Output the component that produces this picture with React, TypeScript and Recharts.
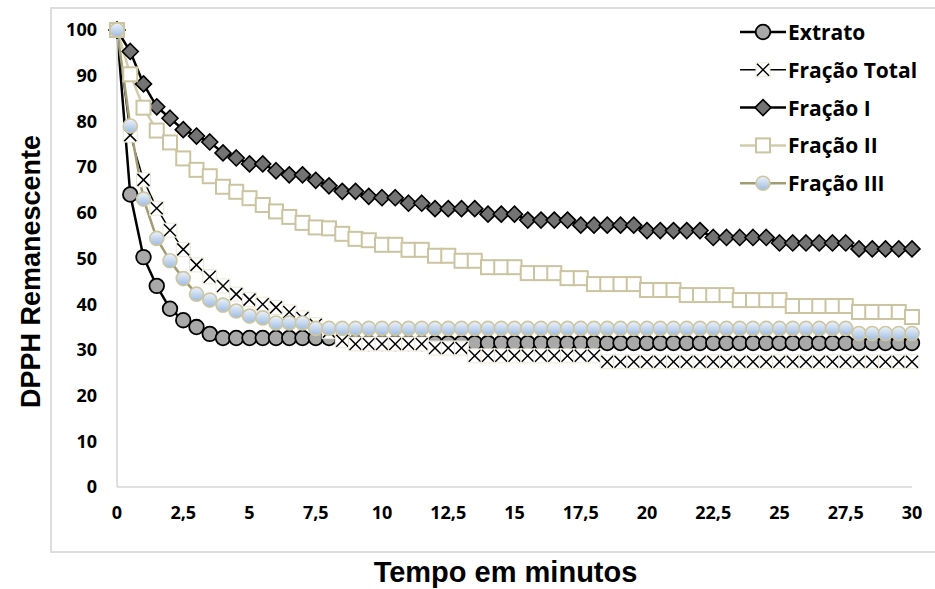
import React from 'react';
import { LineChart, Line, XAxis, YAxis, Legend } from 'recharts';

// ---------- data ----------
const TIME = [
  0, 0.5, 1, 1.5, 2, 2.5, 3, 3.5, 4, 4.5,
  5, 5.5, 6, 6.5, 7, 7.5, 8, 8.5, 9, 9.5,
  10, 10.5, 11, 11.5, 12, 12.5, 13, 13.5, 14, 14.5,
  15, 15.5, 16, 16.5, 17, 17.5, 18, 18.5, 19, 19.5,
  20, 20.5, 21, 21.5, 22, 22.5, 23, 23.5, 24, 24.5,
  25, 25.5, 26, 26.5, 27, 27.5, 28, 28.5, 29, 29.5,
  30,
];

const EXTRATO = [
  100, 64, 50.3, 44, 39, 36.5, 35, 33.5, 32.6, 32.6,
  32.6, 32.6, 32.6, 32.6, 32.6, 32.6, 32.6, 32.6, 31.6, 31.5,
  31.5, 31.5, 31.5, 31.5, 31.5, 31.5, 31.5, 31.5, 31.5, 31.5,
  31.5, 31.5, 31.5, 31.5, 31.5, 31.5, 31.5, 31.5, 31.5, 31.5,
  31.5, 31.5, 31.5, 31.5, 31.5, 31.5, 31.5, 31.5, 31.5, 31.5,
  31.5, 31.5, 31.5, 31.5, 31.5, 31.5, 31.5, 31.5, 31.5, 31.5,
  31.5,
];

const FRACAO_TOTAL = [
  100, 77, 67.2, 61, 56.2, 52, 48.6, 46, 44, 42.2,
  41, 40, 39.3, 38.3, 37, 35.5, 34, 32, 31.3, 31.3,
  31.3, 31.3, 31.3, 31.3, 30.4, 30.4, 30.4, 28.7, 28.7, 28.7,
  28.7, 28.7, 28.7, 28.7, 28.7, 28.7, 28.7, 27.4, 27.4, 27.4,
  27.4, 27.4, 27.4, 27.4, 27.4, 27.4, 27.4, 27.4, 27.4, 27.4,
  27.4, 27.4, 27.4, 27.4, 27.4, 27.4, 27.4, 27.4, 27.4, 27.4,
  27.4,
];

const FRACAO_I = [
  100, 95.3, 88.2, 83.2, 80.7, 78.2, 76.8, 75.5, 73.1, 72,
  70.7, 70.7, 69.2, 68.3, 68.3, 67.1, 65.9, 64.7, 64.7, 63.6,
  63.3, 63.3, 62.1, 62.1, 60.9, 60.9, 60.9, 60.9, 59.7, 59.7,
  59.7, 58.4, 58.4, 58.4, 58.4, 57.3, 57.3, 57.3, 57.3, 57.3,
  56.1, 56.1, 56.1, 56.1, 56.1, 54.6, 54.6, 54.6, 54.6, 54.6,
  53.4, 53.4, 53.4, 53.4, 53.4, 53.4, 52.1, 52.1, 52.1, 52.1,
  52.1,
];

const FRACAO_II = [
  100, 90.3, 83, 78, 75.4, 71.9, 69.4, 68, 65.7, 64.6,
  63.2, 61.7, 60.3, 59.1, 57.8, 56.8, 56.6, 55.4, 54.3, 54,
  53, 53, 51.9, 51.9, 50.6, 50.6, 49.5, 49.5, 48.1, 48.1,
  48.1, 46.8, 46.8, 46.8, 45.7, 45.7, 44.4, 44.4, 44.4, 44.4,
  43.1, 43.1, 43.1, 42, 42, 42, 42, 40.9, 40.9, 40.9,
  40.9, 39.6, 39.6, 39.6, 39.6, 39.6, 38.3, 38.3, 38.3, 38.3,
  37.2,
];

const FRACAO_III = [
  100, 79, 63, 54.4, 49.5, 45.6, 42.2, 40.9, 39.8, 38.5,
  37.4, 37, 35.9, 35.9, 35.9, 34.7, 34.7, 34.7, 34.7, 34.7,
  34.7, 34.7, 34.7, 34.7, 34.7, 34.7, 34.7, 34.7, 34.7, 34.7,
  34.7, 34.7, 34.7, 34.7, 34.7, 34.7, 34.7, 34.7, 34.7, 34.7,
  34.7, 34.7, 34.7, 34.7, 34.7, 34.7, 34.7, 34.7, 34.7, 34.7,
  34.7, 34.7, 34.7, 34.7, 34.7, 34.7, 33.6, 33.6, 33.6, 33.6,
  33.6,
];

const X_TICKS = [0, 2.5, 5, 7.5, 10, 12.5, 15, 17.5, 20, 22.5, 25, 27.5, 30];
const Y_TICKS = [0, 10, 20, 30, 40, 50, 60, 70, 80, 90, 100];

const SERIES_NAMES = ['Extrato', 'Fração Total', 'Fração I', 'Fração II', 'Fração III'];
const X_TITLE = 'Tempo em minutos';
const Y_TITLE = 'DPPH Remanescente';

const data = TIME.map((t, i) => ({
  t,
  extrato: EXTRATO[i],
  total: FRACAO_TOTAL[i],
  f1: FRACAO_I[i],
  f2: FRACAO_II[i],
  f3: FRACAO_III[i],
}));

// ---------- marker shapes ----------
const mCircleGray = (cx: number, cy: number, k: string) => (
  <circle key={k} cx={cx} cy={cy} r={7.3} fill="#a9a9a9" stroke="#000" strokeWidth={1.8} />
);
const mCross = (cx: number, cy: number, k: string) => (
  <g key={k}>
    <rect x={cx - 7} y={cy - 7} width={14} height={14} fill="#fff" stroke="#ebe7d6" strokeWidth={1} />
    <line x1={cx - 6} y1={cy - 6} x2={cx + 6} y2={cy + 6} stroke="#000" strokeWidth={1.5} />
    <line x1={cx - 6} y1={cy + 6} x2={cx + 6} y2={cy - 6} stroke="#000" strokeWidth={1.5} />
  </g>
);
const mDiamond = (cx: number, cy: number, k: string) => (
  <polygon
    key={k}
    points={`${cx},${cy - 8} ${cx + 8},${cy} ${cx},${cy + 8} ${cx - 8},${cy}`}
    fill="#737373"
    stroke="#000"
    strokeWidth={1.6}
  />
);
const mSquare = (cx: number, cy: number, k: string) => (
  <rect key={k} x={cx - 7} y={cy - 7} width={14} height={14} fill="#fff" stroke="#cbc4a0" strokeWidth={2} />
);
const mCircleBlue = (cx: number, cy: number, k: string) => (
  <circle key={k} cx={cx} cy={cy} r={7} fill="url(#blueGrad)" stroke="#cdc6a2" strokeWidth={1.6} />
);

const makeDot = (shape: (cx: number, cy: number, k: string) => React.ReactElement, pre: string) =>
  (props: any) => {
    const { cx, cy, index } = props;
    const k = `${pre}-${index}`;
    if (cx == null || cy == null) return <g key={k} />;
    return shape(cx, cy, k);
  };

const LEGEND_STYLE = [
  { color: '#000', width: 2.5, shape: mCircleGray },
  { color: '#000', width: 1.5, shape: mCross },
  { color: '#000', width: 2.5, shape: mDiamond },
  { color: '#d2ccab', width: 2.5, shape: mSquare },
  { color: '#a29c72', width: 2.5, shape: mCircleBlue },
];

const renderLegend = () => (
  <svg width={200} height={190}>
    {SERIES_NAMES.map((name, i) => {
      const y = 20 + i * 37.8;
      const st = LEGEND_STYLE[i];
      return (
        <g key={name}>
          <line x1={5} y1={y} x2={51} y2={y} stroke={st.color} strokeWidth={st.width} />
          {st.shape(28, y, `lg-${i}`)}
          <text
            x={53}
            y={y}
            dominantBaseline="central"
            fontFamily="'Open Sans', sans-serif"
            fontWeight={700}
            fontSize={21}
            fill="#000"
          >
            {name}
          </text>
        </g>
      );
    })}
  </svg>
);

const tickStyle = { fontFamily: "'Open Sans', sans-serif", fontWeight: 700, fontSize: 18, fill: '#000' };
const fmt = (v: number) => String(v).replace('.', ',');

export default function App() {
  return (
    <div style={{ position: 'absolute', left: 0, top: 0, width: 935, height: 589, overflow: 'hidden', background: '#fff' }}>
      <svg width={0} height={0} style={{ position: 'absolute' }}>
        <defs>
          <linearGradient id="blueGrad" x1="0" y1="0" x2="0" y2="1">
            <stop offset="0%" stopColor="#eef3fa" />
            <stop offset="100%" stopColor="#9dbbe0" />
          </linearGradient>
        </defs>
      </svg>
      <div
        style={{
          position: 'absolute',
          left: 50,
          top: 7,
          width: 900,
          height: 546,
          border: '2px solid #dddddd',
          boxSizing: 'border-box',
        }}
      />
      <div style={{ position: 'absolute', left: 0, top: 0 }}>
        <LineChart width={935} height={589} data={data} margin={{ top: 30, right: 23, left: 0, bottom: 0 }}>
          <XAxis
            dataKey="t"
            type="number"
            domain={[0, 30]}
            ticks={X_TICKS}
            tickFormatter={fmt}
            tickLine={false}
            tickSize={0}
            tickMargin={19}
            axisLine={{ stroke: '#d4d4d4', strokeWidth: 1.5 }}
            tick={tickStyle}
            height={102}
            interval={0}
            label={{
              content: (p: any) => {
                const vb = p.viewBox || { x: 117, y: 487, width: 795, height: 102 };
                return (
                  <text
                    x={vb.x + vb.width / 2 - 9}
                    y={vb.y + 95}
                    textAnchor="middle"
                    fontFamily="'Liberation Sans', Arial, sans-serif"
                    fontWeight={700}
                    fontSize={29}
                    fill="#000"
                  >
                    {X_TITLE}
                  </text>
                );
              },
            }}
          />
          <YAxis
            type="number"
            domain={[0, 100]}
            ticks={Y_TICKS}
            tickLine={false}
            tickSize={0}
            tickMargin={20}
            axisLine={{ stroke: '#d4d4d4', strokeWidth: 1.5 }}
            tick={tickStyle}
            width={117}
            interval={0}
            label={{
              content: (p: any) => {
                const vb = p.viewBox || { x: 0, y: 30, width: 117, height: 457 };
                const cx = 40;
                const cy = vb.y + vb.height / 2 + 13;
                return (
                  <text
                    x={cx}
                    y={cy}
                    transform={`rotate(-90 ${cx} ${cy})`}
                    textAnchor="middle"
                    fontFamily="'Liberation Sans', Arial, sans-serif"
                    fontWeight={700}
                    fontSize={27}
                    fill="#000"
                  >
                    {Y_TITLE}
                  </text>
                );
              },
            }}
          />
          <Legend
            layout="horizontal"
            verticalAlign="middle"
            align="center"
            content={renderLegend}
            wrapperStyle={{ left: 735, top: 12, width: 200, height: 190 }}
          />
          <Line
            name={SERIES_NAMES[0]}
            dataKey="extrato"
            stroke="#000"
            strokeWidth={2.5}
            dot={makeDot(mCircleGray, 'e')}
            activeDot={false}
            isAnimationActive={false}
          />
          <Line
            name={SERIES_NAMES[1]}
            dataKey="total"
            stroke="#000"
            strokeWidth={1.5}
            dot={makeDot(mCross, 'x')}
            activeDot={false}
            isAnimationActive={false}
          />
          <Line
            name={SERIES_NAMES[2]}
            dataKey="f1"
            stroke="#000"
            strokeWidth={2.5}
            dot={makeDot(mDiamond, 'd')}
            activeDot={false}
            isAnimationActive={false}
          />
          <Line
            name={SERIES_NAMES[3]}
            dataKey="f2"
            stroke="#d2ccab"
            strokeWidth={2.5}
            dot={makeDot(mSquare, 's')}
            activeDot={false}
            isAnimationActive={false}
          />
          <Line
            name={SERIES_NAMES[4]}
            dataKey="f3"
            stroke="#a29c72"
            strokeWidth={2.5}
            dot={makeDot(mCircleBlue, 'b')}
            activeDot={false}
            isAnimationActive={false}
          />
        </LineChart>
      </div>
    </div>
  );
}
